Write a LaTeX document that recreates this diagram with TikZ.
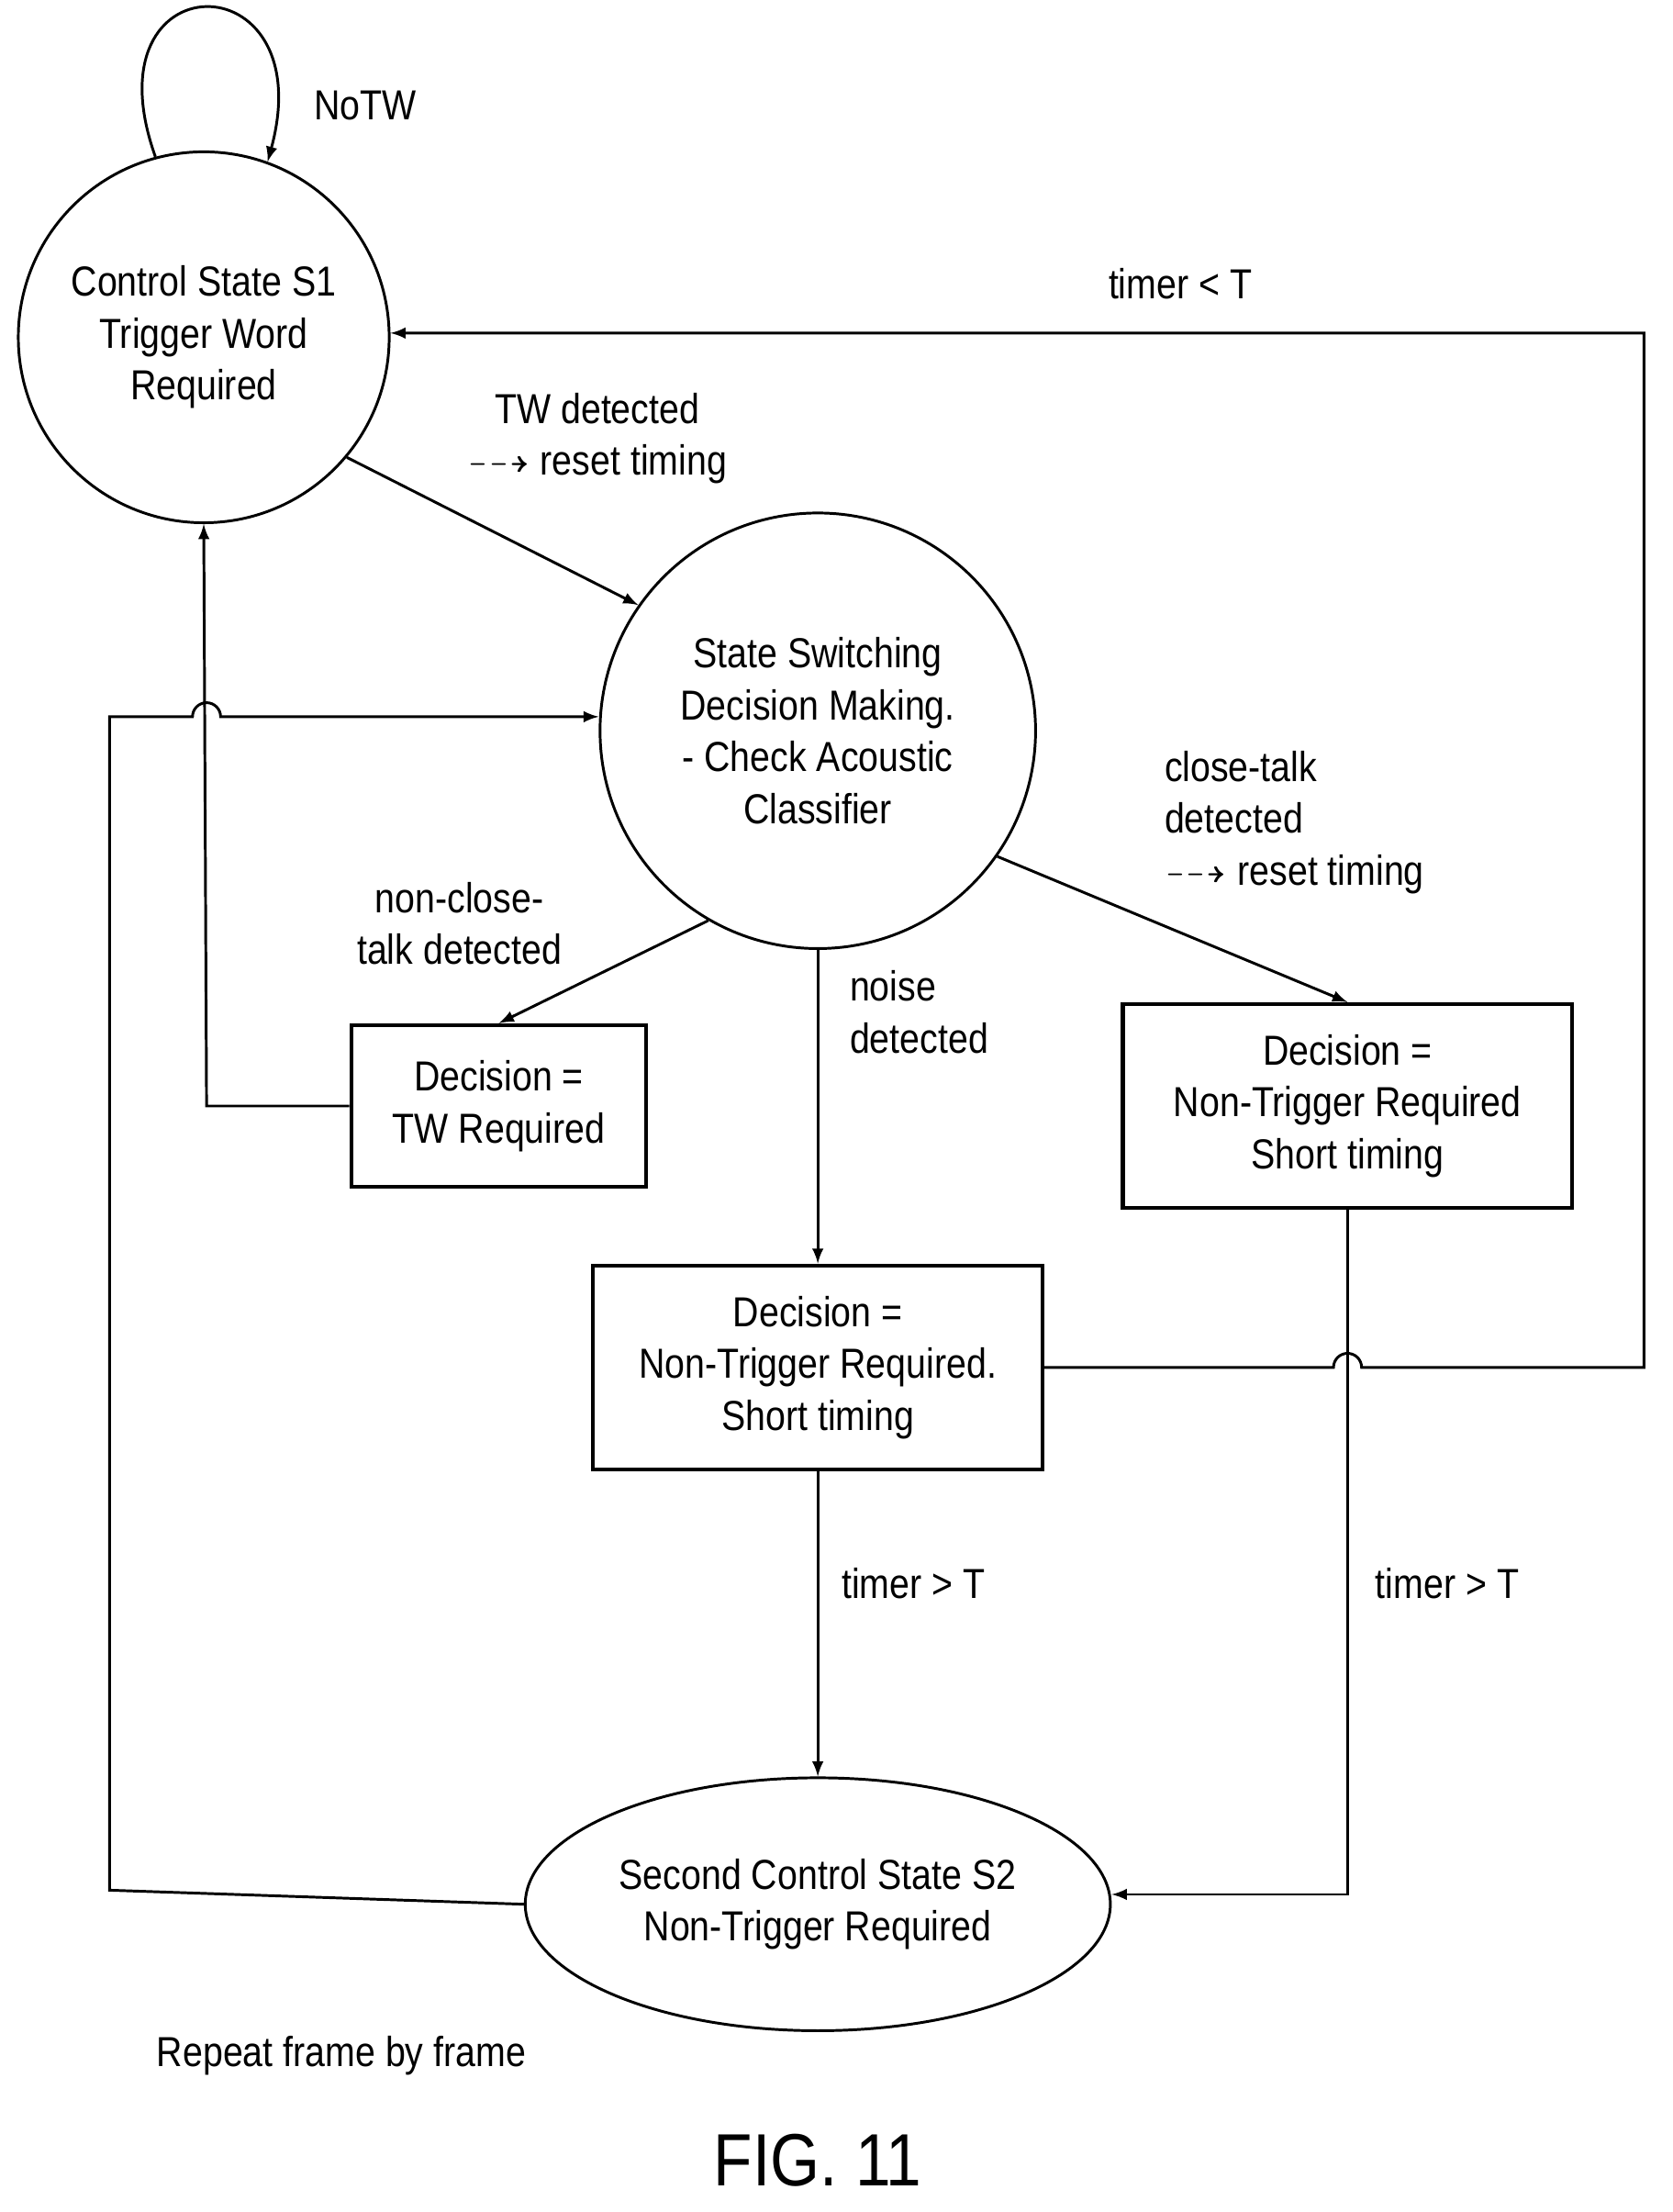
\documentclass[tikz,border=0pt]{standalone}
\usepackage{amssymb}
\usepackage{fontspec}
\setmainfont[FakeStretch=0.86]{Liberation Sans}
\usetikzlibrary{arrows}
\usetikzlibrary{shapes.geometric}
\begin{document}
\begin{tikzpicture}[x=0.02cm,y=-0.02cm,line width=1.1pt,
    every node/.style={font=\fontsize{17}{21}\selectfont},
    state/.style={draw,circle,inner sep=0pt,align=center},
    decision/.style={draw,rectangle,align=center,line width=1.6pt},
    lbl/.style={align=center},
    flow/.style={->,>=latex}]
                \useasboundingbox (0,0) rectangle (1190,1574);
                %states
                \node[state,minimum size=5.28cm] (s1) at (145,240) {Control State S1\\Trigger Word\\Required};
                \node[state,minimum size=6.2cm] (switch) at (582,520) {State Switching\\Decision Making.\\- Check Acoustic\\Classifier};
                \node[draw,ellipse,minimum width=8.2cm,minimum height=3.6cm,align=center] (s2) at (582,1355) {Second Control State S2\\Non-Trigger Required};
                %decisions
                \node[decision,minimum width=4.2cm,minimum height=2.3cm] (twreq) at (355,787) {Decision =\\TW Required};
                \node[decision,minimum width=6.4cm,minimum height=2.9cm] (ntshort) at (959,787) {Decision =\\Non-Trigger Required\\Short timing};
                \node[decision,minimum width=6.4cm,minimum height=2.9cm] (noise) at (582,973) {Decision =\\Non-Trigger Required.\\Short timing};
                %corners
                \coordinate (c1) at (1170,973);
                \coordinate (c2) at (1170,237);
                \coordinate (c3) at (147,787);
                \coordinate (c4) at (78,1345);
                \coordinate (c5) at (78,510);
                \coordinate (c6) at (959,1348);
                %edges
                \draw[flow] (s1.105) .. controls (60,-30) and (230,-30) .. (s1.70);
                \node at (260,75) {NoTW};
                \draw[flow] (s1.-40) -- (switch.145);
                \node[lbl] at (425,312) {TW detected\\$\dashrightarrow$ reset timing};
                \draw[flow] (switch.-120) -- (twreq.north);
                \node[lbl] at (327,657) {non-close-\\talk detected};
                \draw[flow] (switch.-35) -- (ntshort.north);
                \node[lbl,align=left,anchor=west] at (822,585) {close-talk\\detected\\$\dashrightarrow$ reset timing};
                \draw[flow] (switch.south) -- (noise.north);
                \node[lbl,align=left,anchor=west] at (598,720) {noise\\detected};
                \draw[flow] (twreq.west) -- (c3) -- (s1.south);
                \draw[flow] (noise.east) -- (949,973) arc[start angle=180,end angle=0,radius=0.2cm] -- (c1) -- (c2) -- (s1.east |- c2);
                \node at (840,202) {timer < T};
                \draw[flow] (s2.west) -- (c4) -- (c5) -- (137,510) arc[start angle=180,end angle=0,radius=0.2cm] -- (switch.west |- c5);
                \draw[flow] (noise.south) -- (s2.north);
                \node at (650,1127) {timer > T};
                \draw[flow] (ntshort.south) -- (c6) -- (s2.east |- c6);
                \node at (1030,1127) {timer > T};
                \node at (243,1463) {Repeat frame by frame};
                \node[font=\fontsize{30}{34}\selectfont] at (582,1537) {FIG. 11};
            \end{tikzpicture}
\end{document}
